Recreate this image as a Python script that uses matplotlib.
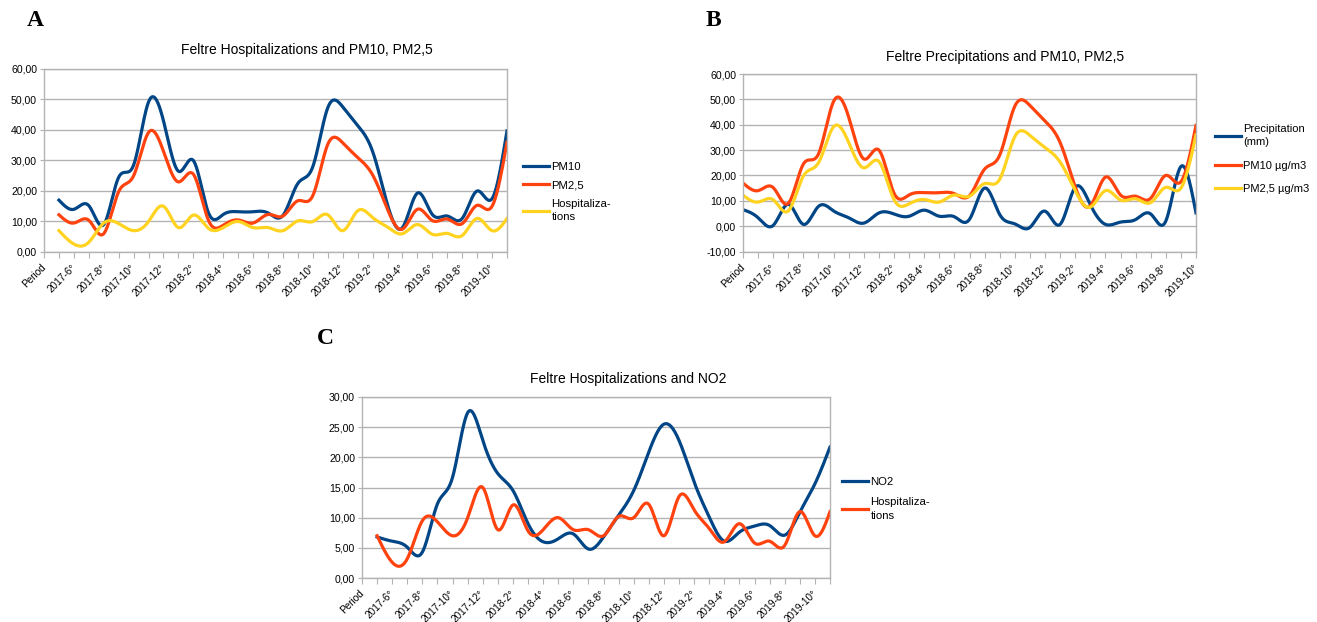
import numpy as np
import matplotlib
matplotlib.use('Agg')
import matplotlib.pyplot as plt

plt.rcParams['font.family'] = ['Liberation Sans', 'DejaVu Sans']

# categories (first slot is the "Period" header cell of the sheet)
months_ac = ['Period', '2017-5°', '2017-6°', '2017-7°', '2017-8°', '2017-9°', '2017-10°', '2017-11°',
             '2017-12°', '2018-1°', '2018-2°', '2018-3°', '2018-4°', '2018-5°', '2018-6°', '2018-7°',
             '2018-8°', '2018-9°', '2018-10°', '2018-11°', '2018-12°', '2019-1°', '2019-2°', '2019-3°',
             '2019-4°', '2019-5°', '2019-6°', '2019-7°', '2019-8°', '2019-9°', '2019-10°', '2019-11°']
months_b = months_ac[:-1]

# monthly values 2017-5 .. 2019-11
pm10 = [17.0, 14.0, 15.2, 9.0, 24.5, 28.5, 49.2, 43.0, 26.5, 30.0, 13.0, 12.3, 13.2, 13.2, 12.8, 12.0,
        22.5, 28.0, 47.3, 47.6, 41.5, 33.0, 15.5, 8.0, 19.3, 12.3, 11.8, 11.0, 20.0, 17.5, 39.7]
pm25 = [12.2, 9.5, 10.4, 6.0, 19.8, 25.0, 39.2, 33.0, 23.0, 25.5, 10.5, 8.8, 10.5, 9.5, 12.3, 11.8,
        16.8, 18.5, 35.3, 35.8, 31.0, 25.3, 14.0, 7.5, 14.0, 10.3, 10.8, 9.3, 15.3, 15.0, 36.0]
hosp = [7.0, 2.6, 3.2, 9.5, 9.3, 7.0, 10.0, 15.0, 8.0, 12.1, 7.8, 8.0, 10.0, 8.0, 8.0, 7.0,
        10.2, 10.0, 12.2, 7.0, 13.5, 11.3, 8.2, 6.0, 9.0, 5.8, 6.1, 5.4, 11.0, 7.0, 11.0]
no2 = [6.8, 6.1, 5.1, 4.3, 12.3, 16.7, 27.4, 22.8, 17.3, 14.5, 9.0, 6.0, 6.5, 7.3, 4.8, 6.8,
       10.4, 14.5, 20.9, 25.5, 22.8, 15.9, 10.1, 6.1, 7.6, 8.6, 8.7, 7.1, 10.9, 15.6, 21.7]
precip = [6.5, 3.3, 0.3, 8.6, 0.7, 7.8, 6.0, 3.3, 1.2, 5.2, 4.8, 3.9, 6.3, 3.9, 3.7, 2.7,
          15.0, 4.6, 0.9, -0.5, 5.9, 0.7, 15.3, 8.5, 0.7, 1.6, 2.6, 4.8, 2.0, 23.5, 5.2]

BLUE, RED, YELLOW = '#004586', '#ff420e', '#ffd320'
GRID = '#b3b3b3'
W, H = 1317, 622


def spline(x, y, n=24):
    # natural cubic spline, like the "cubic spline" line type of the spreadsheet
    x = np.asarray(x, float)
    y = np.asarray(y, float)
    N = len(x)
    h = np.diff(x)
    A = np.zeros((N, N))
    r = np.zeros(N)
    A[0, 0] = A[-1, -1] = 1
    for i in range(1, N - 1):
        A[i, i - 1] = h[i - 1]
        A[i, i] = 2 * (h[i - 1] + h[i])
        A[i, i + 1] = h[i]
        r[i] = 3 * ((y[i + 1] - y[i]) / h[i] - (y[i] - y[i - 1]) / h[i - 1])
    c = np.linalg.solve(A, r)
    b = (y[1:] - y[:-1]) / h - h * (2 * c[:-1] + c[1:]) / 3
    d = (c[1:] - c[:-1]) / (3 * h)
    xs = np.linspace(x[0], x[-1], (N - 1) * n + 1)
    i = np.clip(np.searchsorted(x, xs, side='right') - 1, 0, N - 2)
    t = xs - x[i]
    return xs, y[i] + b[i] * t + c[i] * t ** 2 + d[i] * t ** 3


def box(l, t, r, b):
    return [l / W, 1 - b / H, (r - l) / W, (b - t) / H]


def setup(ax, cats, ymin, ymax, ystep):
    n = len(cats)
    ax.set_xlim(0, n - 1)
    ax.set_ylim(ymin, ymax)
    ax.set_xticks(range(n))
    ax.set_xticklabels([c if i % 2 == 0 else '' for i, c in enumerate(cats)],
                       rotation=45, ha='right', va='center', rotation_mode='anchor', fontsize=7.2)
    yt = np.arange(ymin, ymax + 0.01, ystep)
    ax.set_yticks(yt)
    ax.set_yticklabels([f'{v:.2f}'.replace('.', ',') for v in yt], fontsize=7.6)
    ax.grid(axis='y', color=GRID, lw=1)
    ax.set_axisbelow(True)
    for s in ax.spines.values():
        s.set_color(GRID)
        s.set_linewidth(1)
    ax.tick_params(axis='x', length=4, color=GRID, pad=6)
    ax.tick_params(axis='y', length=3, color=GRID, pad=2)


def legend(ax, x, y, fs, ls):
    leg = ax.legend(loc='center left', bbox_to_anchor=(x / W, 1 - y / H), bbox_transform=fig.transFigure,
                    frameon=False, fontsize=fs, handlelength=2.3, handletextpad=0.2, labelspacing=ls,
                    borderpad=0, borderaxespad=0)
    for t in leg.get_texts():
        t.set_linespacing(1.45)


fig = plt.figure(figsize=(W / 100, H / 100), dpi=100)

# A
axA = fig.add_axes(box(44, 69, 507, 252))
xa = np.arange(1, len(pm10) + 1)
for vals, col, lab in [(pm10, BLUE, 'PM10'), (pm25, RED, 'PM2,5'), (hosp, YELLOW, 'Hospitaliza-\ntions')]:
    axA.plot(*spline(xa, vals), color=col, lw=2.3, label=lab)
setup(axA, months_ac, 0, 60, 10)
legend(axA, 523, 192, 8.2, 0.75)
fig.text(307 / W, 1 - 50 / H, 'Feltre Hospitalizations and PM10, PM2,5', ha='center', va='center', fontsize=10)

# B
axB = fig.add_axes(box(743, 74, 1196, 251.5))
xb = np.arange(0, len(precip))
for vals, col, lab in [(precip, BLUE, 'Precipitation\n(mm)'), (pm10, RED, 'PM10 µg/m3'),
                       (pm25, YELLOW, 'PM2,5 µg/m3')]:
    axB.plot(*spline(xb, vals), color=col, lw=2.3, label=lab)
setup(axB, months_b, -10, 60, 10)
legend(axB, 1215, 159, 8, 1.2)
fig.text(1005 / W, 1 - 57 / H, 'Feltre Precipitations and PM10, PM2,5', ha='center', va='center', fontsize=10)

# C
axC = fig.add_axes(box(362, 397, 830, 578))
for vals, col, lab in [(no2, BLUE, 'NO2'), (hosp, RED, 'Hospitaliza-\ntions')]:
    axC.plot(*spline(xa, vals), color=col, lw=2.3, label=lab)
setup(axC, months_ac, 0, 30, 5)
legend(axC, 842, 499, 8.2, 0.9)
fig.text(628 / W, 1 - 379 / H, 'Feltre Hospitalizations and NO2', ha='center', va='center', fontsize=10)

for lab, x, y in [('A', 35, 20), ('B', 713, 20), ('C', 325, 338)]:
    fig.text(x / W, 1 - y / H, lab, ha='center', va='center', fontsize=17, fontweight='bold',
             family=['Liberation Serif', 'DejaVu Serif'])

fig.savefig('out.png', dpi=100)
